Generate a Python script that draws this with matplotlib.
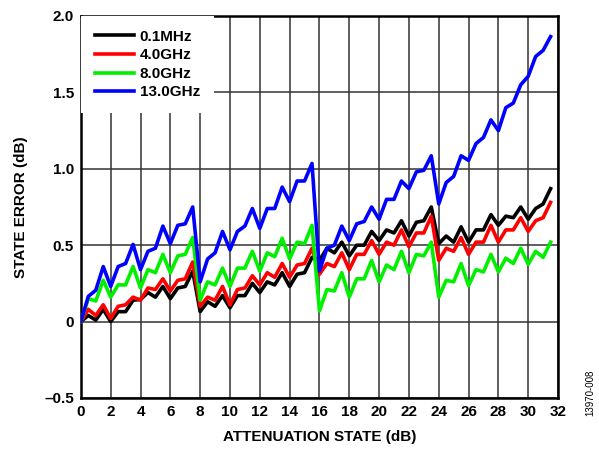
import matplotlib
matplotlib.use("Agg")
import matplotlib.pyplot as plt
import numpy as np

plt.rcParams['font.family'] = ['Liberation Sans', 'DejaVu Sans']
plt.rcParams['font.weight'] = 'bold'
plt.rcParams['font.size'] = 11

# attenuation states 0 .. 31.5 dB in 0.5 dB steps
atten = np.arange(64) * 0.5

err_0p1mhz = [0.00, 0.04, 0.01, 0.08, 0.00, 0.065, 0.065, 0.14,
              0.145, 0.19, 0.16, 0.23, 0.15, 0.22, 0.23, 0.33,
              0.065, 0.13, 0.10, 0.17, 0.09, 0.17, 0.17, 0.25,
              0.19, 0.26, 0.24, 0.32, 0.23, 0.31, 0.32, 0.42,
              0.40, 0.48, 0.45, 0.52, 0.43, 0.50, 0.50, 0.59,
              0.53, 0.60, 0.58, 0.66, 0.56, 0.65, 0.66, 0.75,
              0.51, 0.56, 0.52, 0.62, 0.52, 0.60, 0.60, 0.70,
              0.63, 0.69, 0.68, 0.75, 0.67, 0.74, 0.77, 0.87]

err_4ghz = [0.00, 0.08, 0.04, 0.11, 0.02, 0.10, 0.11, 0.16,
            0.14, 0.22, 0.21, 0.28, 0.20, 0.27, 0.28, 0.39,
            0.10, 0.16, 0.14, 0.23, 0.11, 0.21, 0.22, 0.30,
            0.24, 0.32, 0.29, 0.38, 0.29, 0.37, 0.38, 0.48,
            0.31, 0.38, 0.36, 0.45, 0.34, 0.44, 0.44, 0.53,
            0.44, 0.52, 0.50, 0.60, 0.49, 0.58, 0.58, 0.69,
            0.40, 0.48, 0.46, 0.55, 0.44, 0.52, 0.52, 0.63,
            0.52, 0.60, 0.60, 0.68, 0.59, 0.66, 0.68, 0.78]

err_8ghz = [0.00, 0.15, 0.135, 0.27, 0.16, 0.24, 0.24, 0.36,
            0.22, 0.34, 0.32, 0.44, 0.32, 0.43, 0.44, 0.55,
            0.14, 0.26, 0.24, 0.35, 0.23, 0.35, 0.35, 0.46,
            0.33, 0.45, 0.425, 0.545, 0.41, 0.52, 0.51, 0.63,
            0.07, 0.21, 0.20, 0.32, 0.16, 0.28, 0.28, 0.40,
            0.26, 0.37, 0.34, 0.46, 0.32, 0.44, 0.43, 0.52,
            0.16, 0.27, 0.26, 0.38, 0.235, 0.34, 0.325, 0.44,
            0.325, 0.415, 0.38, 0.48, 0.375, 0.46, 0.42, 0.52]

err_13ghz = [0.00, 0.165, 0.205, 0.36, 0.23, 0.36, 0.38, 0.505,
             0.34, 0.46, 0.48, 0.625, 0.51, 0.63, 0.64, 0.75,
             0.26, 0.41, 0.45, 0.59, 0.47, 0.59, 0.625, 0.74,
             0.61, 0.74, 0.74, 0.88, 0.785, 0.92, 0.92, 1.035,
             0.33, 0.48, 0.50, 0.625, 0.53, 0.64, 0.655, 0.75,
             0.67, 0.80, 0.80, 0.92, 0.87, 0.98, 0.99, 1.085,
             0.77, 0.91, 0.95, 1.085, 1.055, 1.165, 1.205, 1.32,
             1.25, 1.40, 1.43, 1.55, 1.605, 1.735, 1.775, 1.865]

series = [("0.1MHz", err_0p1mhz, "#000000"),
          ("4.0GHz", err_4ghz, "#ff0000"),
          ("8.0GHz", err_8ghz, "#00f000"),
          ("13.0GHz", err_13ghz, "#0000ff")]

x_ticks = np.arange(0, 33, 2)
y_ticks = [-0.5, 0, 0.5, 1.0, 1.5, 2.0]
y_tick_labels = ["\u20130.5", "0", "0.5", "1.0", "1.5", "2.0"]

fig = plt.figure(figsize=(5.99, 4.49), dpi=100)
ax = fig.add_axes([0.135, 0.1136, 0.7966, 0.8508])

for name, vals, col in series:
    ax.plot(atten, vals, color=col, lw=2.6, label=name, zorder=3)

ax.set_xlim(0, 32)
ax.set_ylim(-0.5, 2.0)
ax.set_xticks(x_ticks)
ax.set_yticks(y_ticks)
ax.set_yticklabels(y_tick_labels)
ax.tick_params(length=0, pad=5)
for lab in ax.get_xticklabels() + ax.get_yticklabels():
    lab.set_fontweight('bold')

ax.grid(True, color='#333333', lw=1.1, zorder=1)
ax.set_axisbelow(True)
for sp in ax.spines.values():
    sp.set_linewidth(1.8)

ax.set_xlabel("ATTENUATION STATE (dB)", fontweight='bold', labelpad=8)
ax.set_ylabel("STATE ERROR (dB)", fontweight='bold', labelpad=12)

leg = ax.legend(loc='upper left', frameon=True, fancybox=False, edgecolor='white',
                framealpha=1.0, handlelength=2.6, handletextpad=0.35,
                labelspacing=0.3, borderaxespad=0.0, borderpad=0.9)
leg.get_frame().set_linewidth(0)
for t in leg.get_texts():
    t.set_fontweight('bold')
leg.set_zorder(4)

fig.text(0.985, 0.125, "13970-008", rotation=90, fontsize=7, fontweight='normal',
         ha='center', va='center')

plt.savefig("out.png", dpi=100)
